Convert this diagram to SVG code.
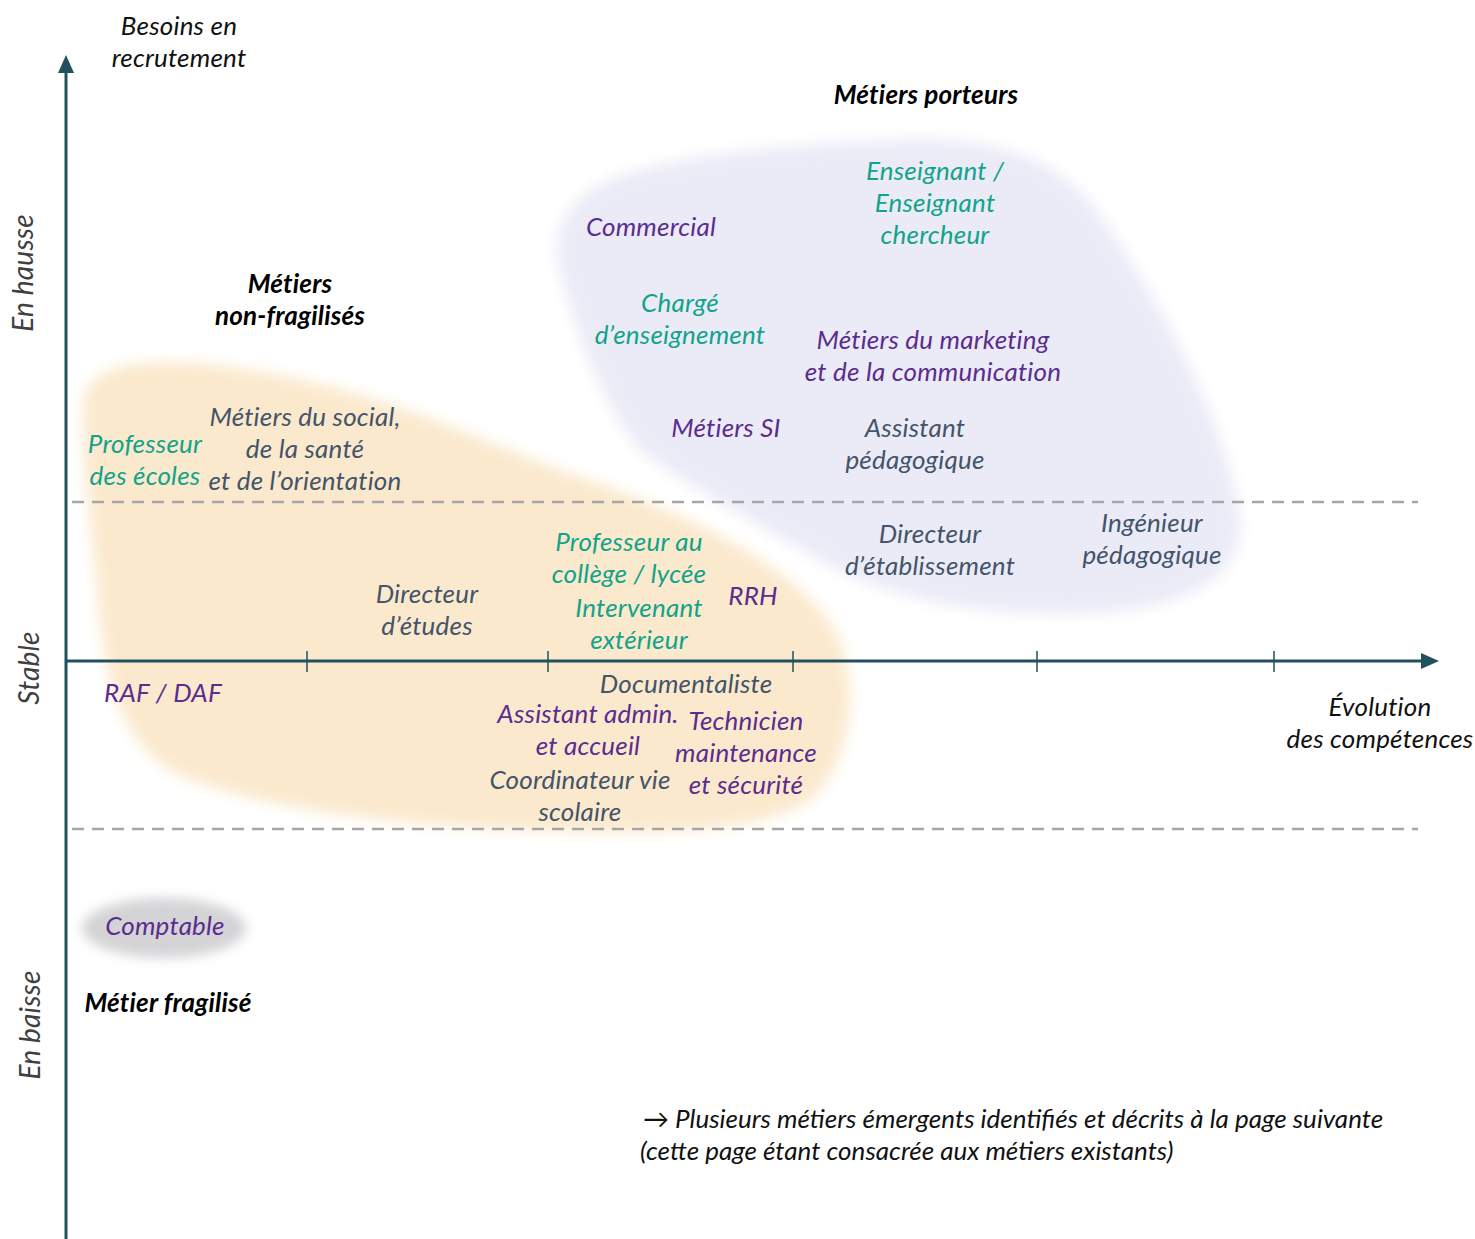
<svg xmlns="http://www.w3.org/2000/svg" width="1475" height="1239" viewBox="0 0 1475 1239">
<defs>
<filter id="soft" x="-20%" y="-20%" width="140%" height="140%"><feGaussianBlur stdDeviation="7"/></filter>
<filter id="soft2" x="-30%" y="-50%" width="160%" height="200%"><feGaussianBlur stdDeviation="6"/></filter>
</defs>
<style>
text{font-family:Lato,"Open Sans","Liberation Sans",sans-serif;font-style:italic;font-size:26px;letter-spacing:0.2px;text-anchor:middle}
.teal{fill:#12A38B}
.purple{fill:#5B2D8E}
.slate{fill:#44546A}
.blk{fill:#111}
.bold{font-weight:bold;fill:#000}
.side{fill:#404040;font-size:28px}
.axis{stroke:#21515C;stroke-width:3;fill:none}
.tick{stroke:#21515C;stroke-width:1.5}
.dash{stroke:#A6A6A6;stroke-width:2.5;stroke-dasharray:12 8;fill:none}
.note{text-anchor:start;fill:#111;font-size:26px;letter-spacing:0}
</style>
<rect width="1475" height="1239" fill="#fff"/>

<g id="zones">
<path id="zone-porteurs" filter="url(#soft)" fill="#EBEBF7" d="M 570,210 C 600,160 760,145 900,140 C 1000,136 1060,160 1100,215 C 1160,300 1230,430 1240,520 C 1245,590 1160,615 1060,614 C 960,613 880,595 820,560 C 740,515 680,480 640,450 C 600,400 580,340 562,280 C 553,250 556,230 570,210 Z"/>
<path id="zone-nonfrag" filter="url(#soft)" fill="#FBE9CD" d="M 85,395 C 95,360 160,355 250,370 C 380,390 480,440 560,470 C 680,510 790,560 835,630 C 860,680 855,760 810,800 C 760,835 640,835 520,830 C 400,825 260,810 180,775 C 120,745 105,680 98,600 C 92,530 78,440 85,395 Z"/>
<ellipse id="zone-frag" filter="url(#soft2)" cx="164" cy="928" rx="82" ry="30" fill="#D4D3D6"/>
</g>

<g id="connectors">
<line class="dash" x1="72" y1="502" x2="1418" y2="502"/>
<line class="dash" x1="72" y1="829" x2="1418" y2="829"/>
<line class="axis" x1="66" y1="1239" x2="66" y2="70"/>
<polygon points="66,55 58,73 74,73" fill="#21515C"/>
<line class="axis" x1="66" y1="661" x2="1424" y2="661"/>
<polygon points="1439,661 1421,653 1421,669" fill="#21515C"/>
<line class="tick" x1="307" y1="651" x2="307" y2="672"/>
<line class="tick" x1="548" y1="651" x2="548" y2="672"/>
<line class="tick" x1="793" y1="651" x2="793" y2="672"/>
<line class="tick" x1="1037" y1="651" x2="1037" y2="672"/>
<line class="tick" x1="1274" y1="651" x2="1274" y2="672"/>
</g>

<g id="axis-labels">
<text class="blk" x="179" y="35">Besoins en</text>
<text class="blk" x="179" y="67">recrutement</text>
<text class="blk" x="1380" y="716">Évolution</text>
<text class="blk" x="1380" y="748">des compétences</text>
<text class="side" transform="translate(33,273) rotate(-90)">En hausse</text>
<text class="side" transform="translate(39,668) rotate(-90)">Stable</text>
<text class="side" transform="translate(40,1025) rotate(-90)">En baisse</text>
</g>

<g id="titles">
<text class="bold" x="926" y="104">Métiers porteurs</text>
<text class="bold" x="290" y="293">Métiers</text>
<text class="bold" x="290" y="325">non-fragilisés</text>
<text class="bold" x="168" y="1012">Métier fragilisé</text>
</g>

<g id="n-enseignant"><text class="teal" x="935" y="180">Enseignant /</text><text class="teal" x="935" y="212">Enseignant</text><text class="teal" x="935" y="244">chercheur</text></g>
<g id="n-commercial"><text class="purple" x="651" y="236">Commercial</text></g>
<g id="n-charge"><text class="teal" x="680" y="312">Chargé</text><text class="teal" x="680" y="344">d’enseignement</text></g>
<g id="n-marketing"><text class="purple" x="933" y="349">Métiers du marketing</text><text class="purple" x="933" y="381">et de la communication</text></g>
<g id="n-si"><text class="purple" x="726" y="437">Métiers SI</text></g>
<g id="n-assistant-peda"><text class="slate" x="915" y="437">Assistant</text><text class="slate" x="915" y="469">pédagogique</text></g>
<g id="n-social"><text class="slate" x="305" y="426">Métiers du social,</text><text class="slate" x="305" y="458">de la santé</text><text class="slate" x="305" y="490">et de l’orientation</text></g>
<g id="n-prof-ecoles"><text class="teal" x="145" y="453">Professeur</text><text class="teal" x="145" y="485">des écoles</text></g>
<g id="n-dir-etab"><text class="slate" x="930" y="543">Directeur</text><text class="slate" x="930" y="575">d’établissement</text></g>
<g id="n-ingenieur"><text class="slate" x="1152" y="532">Ingénieur</text><text class="slate" x="1152" y="564">pédagogique</text></g>
<g id="n-dir-etudes"><text class="slate" x="427" y="603">Directeur</text><text class="slate" x="427" y="635">d’études</text></g>
<g id="n-prof-college"><text class="teal" x="629" y="551">Professeur au</text><text class="teal" x="629" y="583">collège / lycée</text></g>
<g id="n-intervenant"><text class="teal" x="639" y="617">Intervenant</text><text class="teal" x="639" y="649">extérieur</text></g>
<g id="n-rrh"><text class="purple" x="753" y="605">RRH</text></g>
<g id="n-raf"><text class="purple" x="163" y="702">RAF / DAF</text></g>
<g id="n-doc"><text class="slate" x="686" y="693">Documentaliste</text></g>
<g id="n-assistant-admin"><text class="purple" x="588" y="723">Assistant admin.</text><text class="purple" x="588" y="755">et accueil</text></g>
<g id="n-technicien"><text class="purple" x="746" y="730">Technicien</text><text class="purple" x="746" y="762">maintenance</text><text class="purple" x="746" y="794">et sécurité</text></g>
<g id="n-coord"><text class="slate" x="580" y="789">Coordinateur vie</text><text class="slate" x="580" y="821">scolaire</text></g>
<g id="n-comptable"><text class="purple" x="165" y="935">Comptable</text></g>

<g id="note">
<text class="note" x="643" y="1128">→ Plusieurs  métiers émergents identifiés et décrits à la page suivante</text>
<text class="note" x="640" y="1160">(cette page étant consacrée aux métiers existants)</text>
</g>
</svg>
